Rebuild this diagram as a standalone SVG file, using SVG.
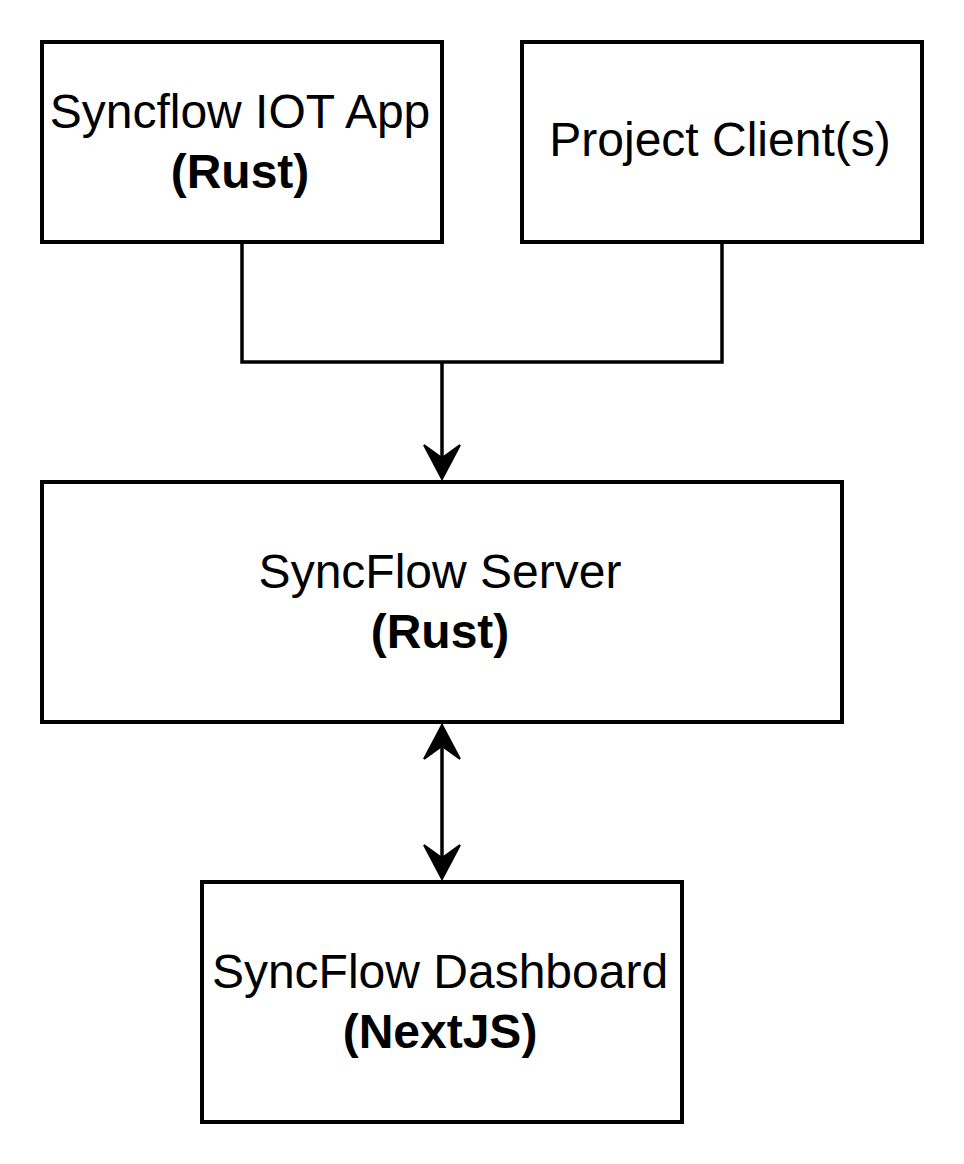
<svg xmlns="http://www.w3.org/2000/svg" width="964" height="1164" viewBox="0 0 964 1164">
<style>
.box{fill:#fff;stroke:#000;stroke-width:4}
.t{font-family:"Liberation Sans",Arial,sans-serif;font-size:48px;fill:#000;text-anchor:middle}
.b{font-weight:bold}
.line{fill:none;stroke:#000;stroke-width:3.5}
.head{fill:#000;stroke:#000;stroke-width:2;stroke-linejoin:miter}
</style>
<rect width="964" height="1164" fill="#fff"/>
<g id="connectors">
<path class="line" d="M242,242 V362 H722 V242"/>
<path class="line" d="M442,362 V460"/>
<path class="head" d="M442,479 L424,445 L442,458 L460,445 Z"/>
<path class="line" d="M442,744 V860"/>
<path class="head" d="M442,725 L424,759 L442,746 L460,759 Z"/>
<path class="head" d="M442,879 L424,845 L442,858 L460,845 Z"/>
</g>
<g id="iot-app">
<rect class="box" x="42" y="42" width="400" height="200"/>
<text class="t" x="240" y="128">Syncflow IOT App</text>
<text class="t b" x="240" y="188">(Rust)</text>
</g>
<g id="project-clients">
<rect class="box" x="522" y="42" width="400" height="200"/>
<text class="t" x="720" y="156">Project Client(s)</text>
</g>
<g id="server">
<rect class="box" x="42" y="482" width="800" height="240"/>
<text class="t" x="440" y="588">SyncFlow Server</text>
<text class="t b" x="440" y="648">(Rust)</text>
</g>
<g id="dashboard">
<rect class="box" x="202" y="882" width="480" height="240"/>
<text class="t" x="440" y="988">SyncFlow Dashboard</text>
<text class="t b" x="440" y="1048">(NextJS)</text>
</g>
</svg>
